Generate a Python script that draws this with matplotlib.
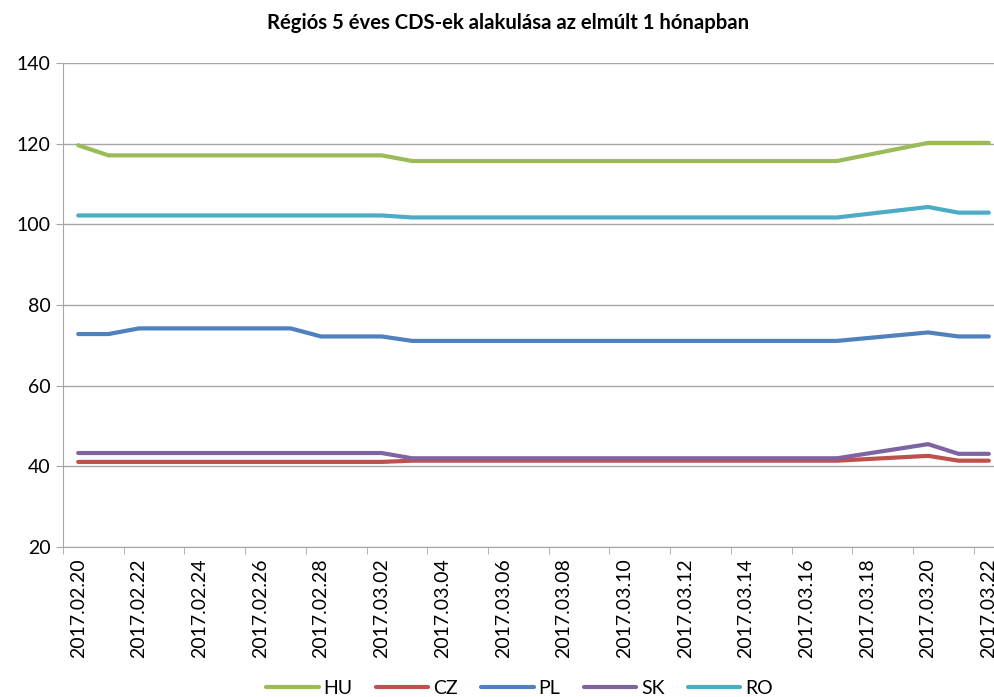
import numpy as np
import pandas as pd
import matplotlib
matplotlib.use("Agg")
import matplotlib.pyplot as plt

plt.rcParams['font.family'] = ['Lato', 'DejaVu Sans']

# Kereskedési napok (hétvégék nélkül)
datumok = ['2017-02-20', '2017-02-21', '2017-02-22', '2017-02-23', '2017-02-24',
           '2017-02-27', '2017-02-28', '2017-03-01', '2017-03-02', '2017-03-03',
           '2017-03-06', '2017-03-07', '2017-03-08', '2017-03-09', '2017-03-10',
           '2017-03-13', '2017-03-14', '2017-03-15', '2017-03-16', '2017-03-17',
           '2017-03-20', '2017-03-21', '2017-03-22']

HU = [119.6, 117.1, 117.1, 117.1, 117.1, 117.1, 117.1, 117.1, 117.1, 115.7,
      115.7, 115.7, 115.7, 115.7, 115.7, 115.7, 115.7, 115.7, 115.7, 115.7,
      120.2, 120.2, 120.2]
CZ = [41.1, 41.1, 41.1, 41.1, 41.1, 41.1, 41.1, 41.1, 41.1, 41.4,
      41.4, 41.4, 41.4, 41.4, 41.4, 41.4, 41.4, 41.4, 41.4, 41.4,
      42.6, 41.4, 41.4]
PL = [72.8, 72.8, 74.2, 74.2, 74.2, 74.2, 72.2, 72.2, 72.2, 71.1,
      71.1, 71.1, 71.1, 71.1, 71.1, 71.1, 71.1, 71.1, 71.1, 71.1,
      73.2, 72.2, 72.2]
SK = [43.3, 43.3, 43.3, 43.3, 43.3, 43.3, 43.3, 43.3, 43.3, 42.0,
      42.0, 42.0, 42.0, 42.0, 42.0, 42.0, 42.0, 42.0, 42.0, 42.0,
      45.5, 43.1, 43.1]
RO = [102.2, 102.2, 102.2, 102.2, 102.2, 102.2, 102.2, 102.2, 102.2, 101.7,
      101.7, 101.7, 101.7, 101.7, 101.7, 101.7, 101.7, 101.7, 101.7, 101.7,
      104.3, 102.9, 102.9]

sorozatok = [('HU', HU, '#9BBB59'), ('CZ', CZ, '#C0504D'), ('PL', PL, '#4F81BD'),
             ('SK', SK, '#8064A2'), ('RO', RO, '#4BACC6')]

# napok a kezdőnaptól
d = pd.to_datetime(datumok)
kezdo = d[0]
x = np.array((d - kezdo).days)
osszes_nap = pd.date_range(d[0], d[-1], freq='D')

fig = plt.figure(figsize=(9.95, 6.97), dpi=100)
ax = fig.add_axes([63/995, 150/697, 941/995, 484/697])

for nev, ertek, szin in sorozatok:
    ax.plot(x, ertek, color=szin, lw=3, label=nev, solid_capstyle='round')

ax.set_xlim(-0.5, len(osszes_nap) - 0.5)
ax.set_ylim(20, 140)
ax.set_yticks(np.arange(20, 141, 20))
ax.grid(axis='y', color='#A6A6A6', lw=1)
ax.set_axisbelow(True)

# címkék napközépen, osztás a napok határán
napok = np.arange(len(osszes_nap))
ax.set_xticks(napok[::2])
ax.set_xticklabels([nap.strftime('%Y.%m.%d') for nap in osszes_nap[::2]],
                   rotation=90, fontsize=14)
ax.set_xticks(napok[::2] - 0.5, minor=True)
ax.tick_params(axis='x', which='major', length=0, pad=8)
ax.tick_params(axis='x', which='minor', length=5, color='#A6A6A6')
ax.tick_params(axis='y', length=5, color='#A6A6A6', labelsize=14, pad=4)

for s in ['top', 'right']:
    ax.spines[s].set_visible(False)
for s in ['left', 'bottom']:
    ax.spines[s].set_color('#A6A6A6')

fig.text(0.511, 1 - 23/697, 'Régiós 5 éves CDS-ek alakulása az elmúlt 1 hónapban',
         ha='center', va='center', fontsize=14.6, fontweight='bold')

fig.legend(loc='center', bbox_to_anchor=(0.522, 1 - 688/697), ncol=5, frameon=False,
           fontsize=14, handlelength=2.7, columnspacing=1.2, handletextpad=0.25)

fig.savefig('out.png', dpi=100)
